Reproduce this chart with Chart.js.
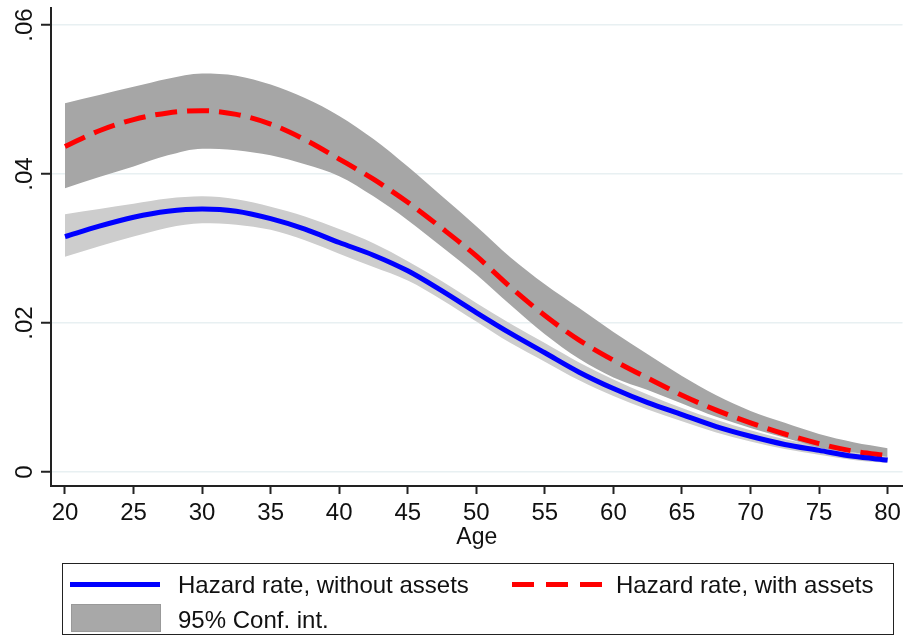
<!DOCTYPE html>
<html>
<head>
<meta charset="utf-8">
<script src="https://cdn.jsdelivr.net/npm/chart.js@4.4.1/dist/chart.umd.min.js"></script>
<style>
  body { margin: 0; background: #fff; }
  #wrap { position: relative; width: 906px; height: 641px; }
  #chart { position: absolute; left: 0; top: 0; }
  .legend { position: absolute; left: 62px; top: 563px; width: 832px; height: 72px; border: 1px solid #222; box-sizing: border-box; }
  .lbl { position: absolute; font: 24px Arial, "Liberation Sans", sans-serif; line-height: 1; color: #111; white-space: nowrap; }
  .swatch { position: absolute; }
</style>
</head>
<body>
<div id="wrap">
  <canvas id="chart" width="906" height="641"></canvas>
  <div class="legend">
    <div class="swatch" style="left:7px; top:18px; width:90px; height:5px; background:#0000ff;"></div>
    <div class="lbl" style="left:115px; top:9px;">Hazard rate, without assets</div>
    <div class="swatch" style="left:449px; top:18px; width:90px; height:5px; background:repeating-linear-gradient(90deg,#ff0000 0 22px,transparent 22px 34px);"></div>
    <div class="lbl" style="left:553px; top:9px;">Hazard rate, with assets</div>
    <div class="swatch" style="left:8px; top:40px; width:90px; height:28px; background:#a8a8a8; border:1px solid #999; box-sizing:border-box;"></div>
    <div class="lbl" style="left:115px; top:44px;">95% Conf. int.</div>
  </div>
</div>
<script>
const ages = [20, 22.5, 25, 27.5, 30, 32.5, 35, 37.5, 40, 42.5, 45, 47.5, 50,
              52.5, 55, 57.5, 60, 62.5, 65, 67.5, 70, 72.5, 75, 77.5, 80];

// hazard rate, without assets (+ 95% CI)
const hazNoAssets = [0.0316, 0.0330, 0.0342, 0.0350, 0.0353, 0.0350, 0.0340, 0.0326, 0.0308, 0.0291, 0.0270, 0.0243, 0.0214,
                     0.0186, 0.0160, 0.0134, 0.0112, 0.0093, 0.0077, 0.0061, 0.0048, 0.0037, 0.0029, 0.0021, 0.0016];
const noAssetsUpper = [0.0346, 0.0353, 0.0360, 0.0367, 0.0370, 0.0366, 0.0356, 0.0343, 0.0326, 0.0307, 0.0283, 0.0256, 0.0227,
                       0.0199, 0.0173, 0.0147, 0.0124, 0.0104, 0.0086, 0.0070, 0.0056, 0.0044, 0.0035, 0.0026, 0.0020];
const noAssetsLower = [0.0289, 0.0303, 0.0316, 0.0328, 0.0334, 0.0332, 0.0325, 0.0311, 0.0293, 0.0275, 0.0257, 0.0231, 0.0202,
                       0.0173, 0.0148, 0.0123, 0.0102, 0.0084, 0.0068, 0.0053, 0.0041, 0.0031, 0.0023, 0.0016, 0.0012];

// hazard rate, with assets (+ 95% CI)
const hazAssets = [0.0437, 0.0458, 0.0473, 0.0482, 0.0485, 0.0480, 0.0467, 0.0446, 0.0420, 0.0393, 0.0362, 0.0327, 0.0290,
                   0.0248, 0.0210, 0.0177, 0.0150, 0.0126, 0.0103, 0.0083, 0.0066, 0.0051, 0.0038, 0.0028, 0.0022];
const assetsUpper = [0.0495, 0.0506, 0.0517, 0.0528, 0.0535, 0.0532, 0.0520, 0.0502, 0.0478, 0.0447, 0.0410, 0.0370, 0.0330,
                     0.0288, 0.0252, 0.0220, 0.0188, 0.0158, 0.0129, 0.0103, 0.0082, 0.0066, 0.0051, 0.0040, 0.0032];
const assetsLower = [0.0381, 0.0396, 0.0410, 0.0425, 0.0434, 0.0432, 0.0425, 0.0413, 0.0397, 0.0370, 0.0338, 0.0302, 0.0265,
                     0.0224, 0.0185, 0.0152, 0.0127, 0.0110, 0.0092, 0.0074, 0.0059, 0.0046, 0.0033, 0.0026, 0.0020];

const xTicks = [20, 25, 30, 35, 40, 45, 50, 55, 60, 65, 70, 75, 80];
const yTicks = [0, 0.02, 0.04, 0.06];
const yTickLabels = ['0', '.02', '.04', '.06'];

const pts = arr => arr.map((v, i) => ({ x: ages[i], y: v }));
const FONT = 'Arial, "Liberation Sans", sans-serif';

// y labels are rotated (Stata style), plus the "Age" title
const axisText = {
    id: 'axisText',
    afterDraw(chart) {
        const ctx = chart.ctx;
        const ys = chart.scales.y;
        ctx.save();
        ctx.fillStyle = '#111';
        ctx.font = '24px ' + FONT;
        ctx.textAlign = 'center';
        ctx.textBaseline = 'alphabetic';
        yTicks.forEach((v, i) => {
            ctx.save();
            ctx.translate(32, ys.getPixelForValue(v));
            ctx.rotate(-Math.PI / 2);
            ctx.fillText(yTickLabels[i], 0, 0);
            ctx.restore();
        });
        ctx.font = '23px ' + FONT;
        ctx.fillText('Age', (chart.chartArea.left + chart.chartArea.right) / 2, 544);
        ctx.restore();
    }
};

new Chart(document.getElementById('chart'), {
    type: 'line',
    data: {
        datasets: [
            { data: pts(hazNoAssets), borderColor: '#0000ff', borderWidth: 5, pointRadius: 0, fill: false },
            { data: pts(hazAssets), borderColor: '#ff0000', borderWidth: 5, borderDash: [22, 10], pointRadius: 0, fill: false },
            { data: pts(assetsUpper), borderWidth: 0, pointRadius: 0, fill: '+1', backgroundColor: '#a6a6a6' },
            { data: pts(assetsLower), borderWidth: 0, pointRadius: 0, fill: false },
            { data: pts(noAssetsUpper), borderWidth: 0, pointRadius: 0, fill: '+1', backgroundColor: '#cdcdcd' },
            { data: pts(noAssetsLower), borderWidth: 0, pointRadius: 0, fill: false }
        ]
    },
    options: {
        responsive: false,
        animation: false,
        cubicInterpolationMode: 'monotone',
        layout: { padding: { top: 8, right: 2, left: 0, bottom: 0 } },
        plugins: { legend: { display: false }, tooltip: { enabled: false } },
        scales: {
            x: {
                type: 'linear',
                min: 18.98,
                max: 81.09,
                afterBuildTicks: s => { s.ticks = xTicks.map(v => ({ value: v })); },
                afterFit: s => { s.height = 155; },
                grid: { drawOnChartArea: false, tickLength: 8, tickColor: '#222', tickWidth: 2 },
                border: { color: '#222', width: 2 },
                ticks: { autoSkip: false, maxRotation: 0, padding: 5, color: '#111', font: { family: FONT, size: 24 } }
            },
            y: {
                min: -0.00188,
                max: 0.06228,
                afterBuildTicks: s => { s.ticks = yTicks.map(v => ({ value: v })); },
                afterFit: s => { s.width = 51; },
                grid: { color: '#e8f0f2', lineWidth: 1.5, tickLength: 10, tickColor: '#222', tickWidth: 2 },
                border: { color: '#222', width: 2 },
                ticks: { display: false }
            }
        }
    },
    plugins: [axisText]
});
</script>
</body>
</html>
